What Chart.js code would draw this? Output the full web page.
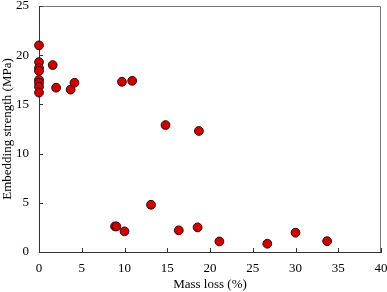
<!DOCTYPE html>
<html>
<head>
<meta charset="utf-8">
<script src="https://cdn.jsdelivr.net/npm/chart.js@4"></script>
<style>
  html, body { margin: 0; padding: 0; background: #fff; }
  #wrap { width: 387px; height: 292px; }
</style>
</head>
<body>
<div id="wrap"><canvas id="chart"></canvas></div>
<script>
// mass loss (%) and embedding strength (MPa)
const massLoss = [0, 0, 0, 0, 0, 0, 0, 0, 1.6, 2.0, 3.7, 4.15, 9.7, 10.9, 14.8, 18.7,
  8.9, 9.05, 10.0, 13.1, 16.35, 18.55, 21.1, 26.7, 30.0, 33.7];
const strength = [21.0, 19.3, 18.7, 18.4, 17.5, 17.2, 16.8, 16.2, 19.0, 16.7, 16.5, 17.2, 17.3, 17.4, 12.9, 12.3,
  2.6, 2.6, 2.1, 4.8, 2.2, 2.5, 1.07, 0.84, 1.96, 1.1];
const xTicks = [0, 5, 10, 15, 20, 25, 30, 35, 40];
const yTicks = [0, 5, 10, 15, 20, 25];

const points = massLoss.map((x, i) => ({x: x, y: strength[i]}));
const font = {family: 'Liberation Serif', size: 13};

// top/right frame in grey and inward tick marks
const frame = {
  id: 'frame',
  afterDraw(chart) {
    const {ctx, chartArea: a, scales} = chart;
    ctx.save();
    ctx.strokeStyle = '#777';
    ctx.lineWidth = 1;
    ctx.beginPath();
    ctx.moveTo(a.left, a.top + 0.5);
    ctx.lineTo(a.right - 0.5, a.top + 0.5);
    ctx.lineTo(a.right - 0.5, a.bottom);
    ctx.stroke();
    ctx.strokeStyle = '#333';
    ctx.beginPath();
    xTicks.forEach(v => {
      const px = Math.round(scales.x.getPixelForValue(v)) + 0.5;
      ctx.moveTo(px, a.bottom);
      ctx.lineTo(px, a.bottom - 4);
    });
    yTicks.forEach(v => {
      const py = Math.round(scales.y.getPixelForValue(v)) + 0.5;
      ctx.moveTo(a.left, py);
      ctx.lineTo(a.left + 4, py);
    });
    ctx.stroke();
    ctx.restore();
  }
};

new Chart(document.getElementById('chart'), {
  type: 'scatter',
  data: {
    datasets: [{
      data: points,
      pointRadius: 4.4,
      pointHoverRadius: 4.4,
      backgroundColor: '#cc0000',
      borderColor: '#3a0000',
      borderWidth: 1,
      clip: false
    }]
  },
  options: {
    responsive: true,
    maintainAspectRatio: false,
    animation: false,
    layout: {padding: {top: 6, right: 6, left: 0, bottom: 0}},
    plugins: {legend: {display: false}, tooltip: {enabled: false}},
    scales: {
      x: {
        min: 0, max: 40,
        afterBuildTicks: s => { s.ticks = xTicks.map(v => ({value: v})); },
        afterFit: s => { s.height = 40; s.paddingLeft = 0; s.paddingRight = 0; },
        grid: {display: false, drawTicks: false},
        border: {display: true, color: '#333', width: 1},
        ticks: {color: '#000', font: font, padding: 9, maxRotation: 0},
        title: {display: true, text: 'Mass loss (%)', color: '#000', font: font, padding: {top: 2, bottom: 0}}
      },
      y: {
        min: 0, max: 25,
        afterBuildTicks: s => { s.ticks = yTicks.map(v => ({value: v})); },
        afterFit: s => { s.width = 39; s.paddingTop = 0; s.paddingBottom = 0; },
        grid: {display: false, drawTicks: false},
        border: {display: true, color: '#333', width: 1},
        ticks: {color: '#000', font: font, padding: 10},
        title: {display: true, text: 'Embedding strength (MPa)', color: '#000', font: font, padding: {top: 0, bottom: 0}}
      }
    }
  },
  plugins: [frame]
});
</script>
</body>
</html>
